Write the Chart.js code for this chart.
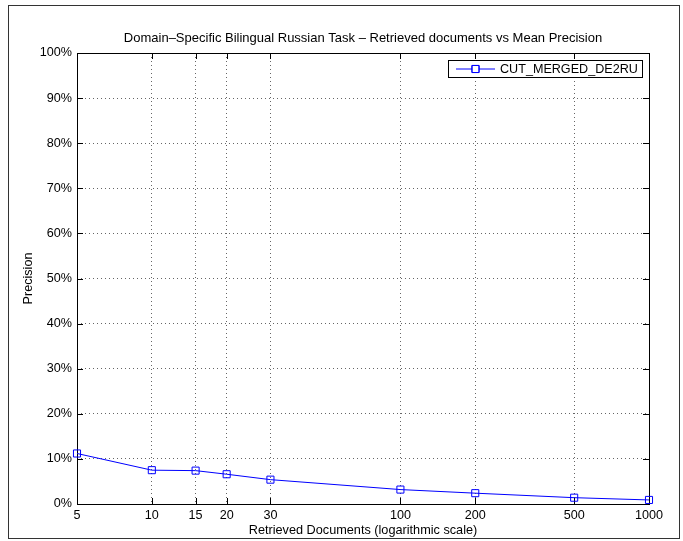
<!DOCTYPE html>
<html lang="en">
<head>
    <meta charset="UTF-8">
    <title>Retrieved documents vs Mean Precision</title>
    <script src="https://cdn.jsdelivr.net/npm/chart.js"></script>
    <style>
        * { margin: 0; padding: 0; box-sizing: border-box; }
        body { background: #fff; width: 683px; height: 541px; overflow: hidden; }
        canvas { display: block; }
    </style>
</head>
<body>
    <canvas id="precChart" width="683" height="541"></canvas>

    <script>
        // data
        const docCounts = [5, 10, 15, 20, 30, 100, 200, 500, 1000];
        const precision = [11.2, 7.5, 7.4, 6.6, 5.4, 3.2, 2.4, 1.4, 0.9];
        const xTickValues = [5, 10, 15, 20, 30, 100, 200, 500, 1000];
        const seriesName = 'CUT_MERGED_DE2RU';

        const FONT = "'Liberation Sans', Arial, Helvetica, sans-serif";
        Chart.defaults.font.family = FONT;
        Chart.defaults.font.size = 12.6;
        Chart.defaults.color = '#000';

        // matlab-style frame: outer figure border, axes box, inward ticks, legend
        const matlabFrame = {
            id: 'matlabFrame',
            beforeDraw(chart) {
                const ctx = chart.ctx;
                ctx.save();
                ctx.fillStyle = '#fff';
                ctx.fillRect(0, 0, chart.width, chart.height);
                ctx.strokeStyle = '#333';
                ctx.lineWidth = 1;
                ctx.strokeRect(8.5, 5.5, 671, 533);
                ctx.restore();
            },
            beforeDatasetsDraw(chart) {
                const ctx = chart.ctx;
                const a = chart.chartArea;
                const xs = chart.scales.x, ys = chart.scales.y;
                const len = 6;
                ctx.save();
                ctx.strokeStyle = '#000';
                ctx.lineWidth = 1;
                ctx.beginPath();
                xs.ticks.forEach(t => {
                    const px = Math.round(xs.getPixelForValue(t.value)) + 0.5;
                    ctx.moveTo(px, a.bottom); ctx.lineTo(px, a.bottom - len);
                    ctx.moveTo(px, a.top); ctx.lineTo(px, a.top + len);
                });
                ys.ticks.forEach(t => {
                    const py = Math.round(ys.getPixelForValue(t.value)) + 0.5;
                    ctx.moveTo(a.left, py); ctx.lineTo(a.left + len, py);
                    ctx.moveTo(a.right, py); ctx.lineTo(a.right - len, py);
                });
                ctx.stroke();
                ctx.strokeRect(Math.round(a.left) + 0.5, Math.round(a.top) + 0.5,
                    Math.round(a.right - a.left), Math.round(a.bottom - a.top));
                ctx.restore();
            },
            afterDatasetsDraw(chart) {
                const ctx = chart.ctx;
                const ds = chart.data.datasets[0];
                ctx.save();
                // legend box
                const bx = 448.5, by = 60.5, bw = 194, bh = 17;
                ctx.fillStyle = '#fff';
                ctx.fillRect(bx, by, bw, bh);
                ctx.strokeStyle = '#000';
                ctx.lineWidth = 1;
                ctx.strokeRect(bx, by, bw, bh);
                const cy = by + bh / 2;
                ctx.strokeStyle = ds.borderColor;
                ctx.beginPath();
                ctx.moveTo(456, cy); ctx.lineTo(495, cy);
                ctx.stroke();
                Chart.helpers.drawPoint(ctx, {
                    pointStyle: 'rect', radius: ds.pointRadius, borderWidth: 1
                }, 475.5, cy);
                ctx.stroke();
                ctx.fillStyle = '#000';
                ctx.font = '12.6px ' + FONT;
                ctx.textBaseline = 'middle';
                ctx.fillText(seriesName, 500, cy + 1);
                ctx.restore();
            }
        };

        new Chart(document.getElementById('precChart'), {
            type: 'line',
            data: {
                datasets: [{
                    label: seriesName,
                    data: docCounts.map((d, i) => ({ x: d, y: precision[i] })),
                    borderColor: '#0000ff',
                    borderWidth: 1,
                    backgroundColor: 'rgba(0,0,0,0)',
                    pointStyle: 'rect',
                    pointRadius: 5,
                    pointBorderWidth: 1,
                    pointBorderColor: '#0000ff',
                    pointBackgroundColor: 'rgba(0,0,0,0)',
                    tension: 0,
                    clip: false
                }]
            },
            options: {
                responsive: false,
                animation: false,
                layout: { padding: { left: 0, top: 0, right: 34, bottom: 0 } },
                plugins: {
                    legend: { display: false },
                    tooltip: { enabled: false },
                    title: {
                        display: true,
                        fullSize: false,
                        text: 'Domain\u2013Specific Bilingual Russian Task \u2013 Retrieved documents vs Mean Precision',
                        font: { size: 13, weight: 'normal' },
                        padding: { top: 31, bottom: 6.4 }
                    }
                },
                scales: {
                    x: {
                        type: 'logarithmic',
                        min: 5,
                        max: 1000,
                        afterFit: s => { s.height = 37; },
                        afterBuildTicks: s => { s.ticks = xTickValues.map(v => ({ value: v })); },
                        ticks: {
                            autoSkip: false,
                            maxRotation: 0,
                            padding: 4,
                            callback: v => String(v)
                        },
                        grid: { color: 'rgba(0,0,0,0.6)', drawTicks: false, lineWidth: 1 },
                        border: { display: false, dash: [1, 3] },
                        title: {
                            display: true,
                            text: 'Retrieved Documents (logarithmic scale)',
                            font: { size: 12.7 },
                            padding: { top: 0, bottom: 3 }
                        }
                    },
                    y: {
                        min: 0,
                        max: 100,
                        afterFit: s => { s.width = 77; },
                        ticks: {
                            stepSize: 10,
                            padding: 5,
                            callback: v => v + '%'
                        },
                        grid: { color: 'rgba(0,0,0,0.6)', drawTicks: false, lineWidth: 1 },
                        border: { display: false, dash: [1, 3] },
                        title: {
                            display: true,
                            text: 'Precision',
                            font: { size: 12.6 },
                            padding: { top: 21, bottom: 0 }
                        }
                    }
                }
            },
            plugins: [matlabFrame]
        });
    </script>
</body>
</html>
